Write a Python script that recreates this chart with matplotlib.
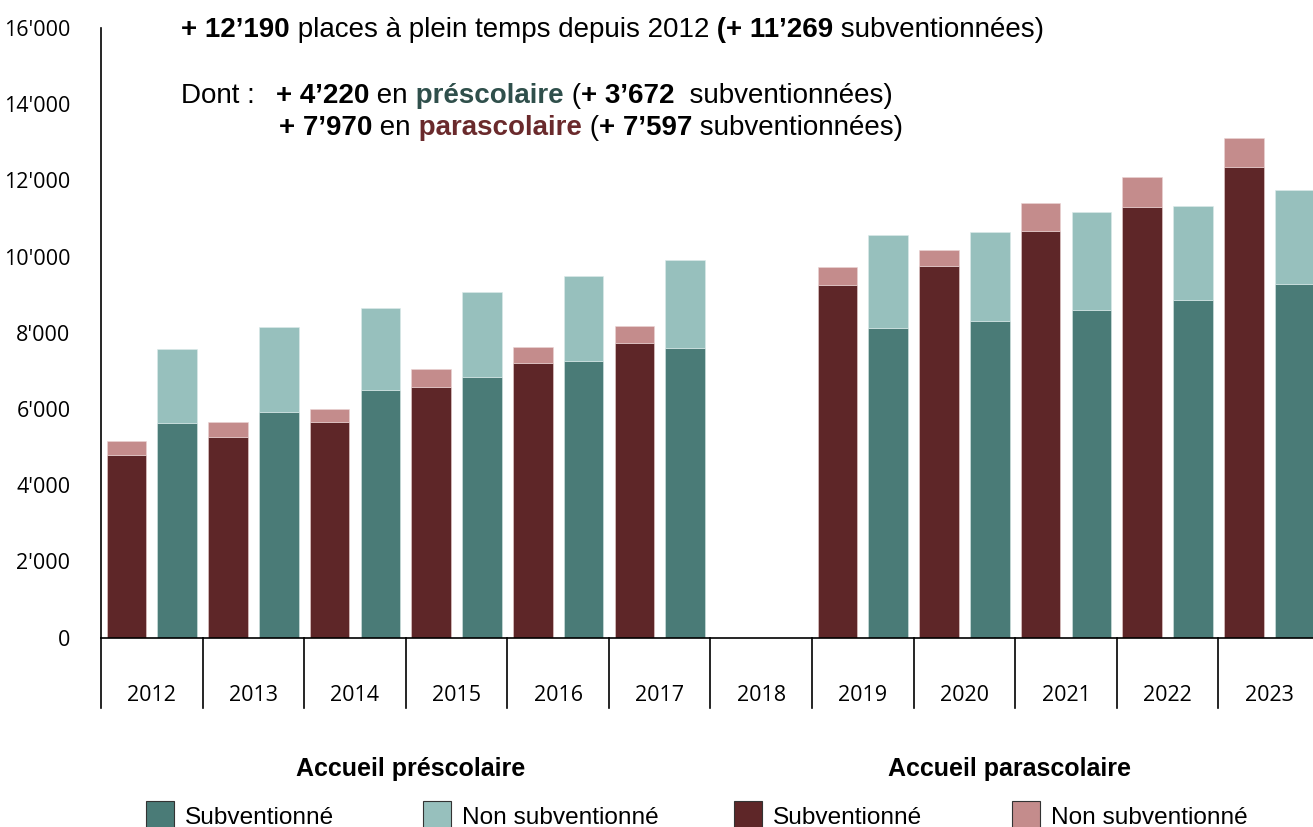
import numpy as np
import matplotlib
matplotlib.use("Agg")
import matplotlib.pyplot as plt
from matplotlib.patches import Rectangle
import matplotlib.transforms as mtransforms

# data (places à plein temps)
years = ['2012', '2013', '2014', '2015', '2016', '2017', '2018',
         '2019', '2020', '2021', '2022', '2023']
para_sub = [4790, 5270, 5670, 6590, 7220, 7740, np.nan, 9260, 9760, 10680, 11310, 12360]
para_non = [370, 390, 340, 470, 420, 450, np.nan, 460, 420, 740, 790, 760]
pre_sub = [5630, 5930, 6510, 6850, 7270, 7590, np.nan, 8130, 8310, 8610, 8870, 9290]
pre_non = [1950, 2230, 2130, 2210, 2230, 2310, np.nan, 2440, 2340, 2570, 2470, 2470]
yticks = [0, 2000, 4000, 6000, 8000, 10000, 12000, 14000, 16000]
ytick_labels = ["0", "2'000", "4'000", "6'000", "8'000", "10'000", "12'000", "14'000", "16'000"]

C_PARA = '#5E2628'
C_PARA_L = '#C48C8C'
C_PRE = '#4A7B77'
C_PRE_L = '#97C0BD'

W, H = 1313, 827
fig = plt.figure(figsize=(W / 100, H / 100), dpi=100)
ax = fig.add_axes([101 / W, 1 - 637.7 / H, (1320 - 101) / W, (637.7 - 28) / H])

x = np.arange(len(years))
bw = 0.39
off = 0.25
ax.bar(x - off, para_sub, bw, color=C_PARA, edgecolor='#E8D0D0', linewidth=0.4)
ax.bar(x - off, para_non, bw, bottom=para_sub, color=C_PARA_L, edgecolor='#EAD4D4', linewidth=0.4)
ax.bar(x + off, pre_sub, bw, color=C_PRE, edgecolor='#D6E6E4', linewidth=0.4)
ax.bar(x + off, pre_non, bw, bottom=pre_sub, color=C_PRE_L, edgecolor='#DCEBEA', linewidth=0.4)

ax.set_xlim(-0.5, len(years) - 0.5)
ax.set_ylim(0, 16000)
for s in ['top', 'right']:
    ax.spines[s].set_visible(False)
for s in ['left', 'bottom']:
    ax.spines[s].set_linewidth(1.2)
    ax.spines[s].set_color('black')

ax.set_yticks(yticks)
ax.set_yticklabels(ytick_labels, family='Open Sans', fontsize=15.5)
ax.tick_params(axis='y', length=0, pad=22)
ax.set_xticks([])

# category separators below the axis
trans = mtransforms.blended_transform_factory(ax.transData, ax.transAxes)
depth = -70.3 / 609.7
for b in np.arange(-0.5, len(years) - 0.5, 1.0):
    ax.plot([b, b], [0, depth], color='black', lw=1.2, transform=trans, clip_on=False)
for i, yr in enumerate(years):
    ax.text(i, -63.3 / 609.7, yr, transform=trans, ha='center', va='baseline',
            family='Open Sans', fontsize=15.5)

# header text with mixed weights
renderer = fig.canvas.get_renderer()
HF = 'Liberation Sans'
HS = 20


def rich(x0, y0, parts):
    for s, weight, color in parts:
        t = fig.text(x0 / W, 1 - y0 / H, s, fontsize=HS, fontweight=weight,
                     color=color, family=HF, va='baseline', ha='left')
        x0 += t.get_window_extent(renderer).width


rich(181, 37, [("+ 12’190", 'bold', 'black'),
               (" places à plein temps depuis 2012", 'normal', 'black'),
               (" (+ 11’269", 'bold', 'black'),
               (" subventionnées)", 'normal', 'black')])
rich(181, 103, [("Dont :", 'normal', 'black')])
rich(276, 103, [("+ 4’220", 'bold', 'black'),
                (" en", 'normal', 'black'),
                (" préscolaire", 'bold', '#2F4F4B'),
                (" (", 'normal', 'black'),
                ("+ 3’672", 'bold', 'black'),
                ("  subventionnées)", 'normal', 'black')])
rich(279, 135, [("+ 7’970", 'bold', 'black'),
                (" en", 'normal', 'black'),
                (" parascolaire", 'bold', '#6A2A2C'),
                (" (", 'normal', 'black'),
                ("+ 7’597", 'bold', 'black'),
                (" subventionnées)", 'normal', 'black')])

# group titles and legend
fig.text(411 / W, 1 - 776 / H, "Accueil préscolaire", family=HF, fontsize=18,
         fontweight='bold', ha='center', va='baseline')
fig.text(1009 / W, 1 - 776 / H, "Accueil parascolaire", family=HF, fontsize=18,
         fontweight='bold', ha='center', va='baseline')

leg_items = [(146, C_PRE, "Subventionné"), (423, C_PRE_L, "Non subventionné"),
             (734, C_PARA, "Subventionné"), (1012, C_PARA_L, "Non subventionné")]
for lx, col, lab in leg_items:
    fig.patches.append(Rectangle((lx / W, 1 - 830 / H), 28 / W, 29 / H,
                                 transform=fig.transFigure, facecolor=col,
                                 edgecolor='#333333', linewidth=0.8))
    fig.text((lx + 39) / W, 1 - 824 / H, lab, family=HF, fontsize=17.6,
             ha='left', va='baseline')

fig.savefig('out.png', dpi=100)
